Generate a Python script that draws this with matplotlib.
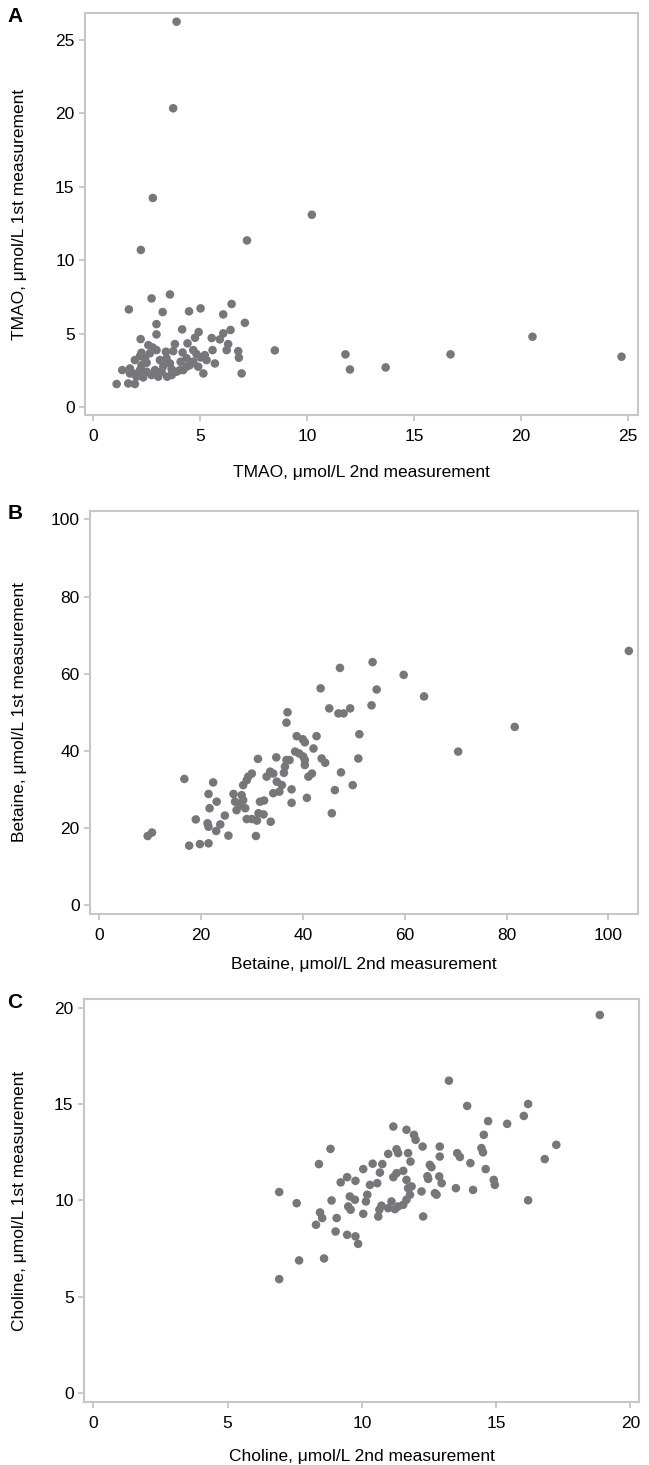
import matplotlib
matplotlib.use("Agg")
import matplotlib.pyplot as plt

plt.rcParams["font.family"] = ["Liberation Sans", "DejaVu Sans"]

# ---- panel A: TMAO (2nd measurement, 1st measurement) ----
tmao_2nd = [3.91, 3.75, 2.80, 10.23, 7.20, 2.24, 8.50, 11.80, 12.01, 13.68, 16.71, 20.54, 24.70,
            1.11, 1.65, 1.96, 1.37, 1.68, 2.74, 3.60, 3.26, 4.49, 5.03, 6.48, 6.09, 7.10, 2.97,
            4.17, 4.94, 2.97, 6.43, 6.09, 2.23, 5.55, 4.77, 5.93, 3.83, 4.42, 2.59, 6.32, 2.97,
            2.79, 3.41, 3.75, 4.19, 4.69, 4.84, 5.59, 6.25, 6.79, 6.82, 6.95, 5.16, 5.70, 5.31,
            5.03, 4.53, 4.10, 3.60, 3.44, 3.13, 2.90, 2.74, 2.51, 2.27, 2.20, 2.04, 1.88, 1.73,
            1.96, 2.20, 2.43, 2.66, 3.47, 3.21, 3.91, 3.68, 4.38, 4.69, 4.92, 4.22, 2.51, 1.73,
            2.35, 3.05, 3.68, 4.07, 4.38, 2.27, 3.29, 5.23]
tmao_1st = [26.25, 20.35, 14.24, 13.10, 11.35, 10.70, 3.86, 3.59, 2.56, 2.70, 3.59, 4.79, 3.43,
            1.57, 1.61, 1.57, 2.52, 6.65, 7.40, 7.67, 6.47, 6.52, 6.72, 7.02, 6.31, 5.74, 5.65,
            5.29, 5.11, 4.95, 5.25, 5.02, 4.63, 4.70, 4.72, 4.61, 4.29, 4.34, 4.22, 4.29, 3.88,
            4.06, 3.77, 3.81, 3.72, 3.88, 3.61, 3.88, 3.88, 3.81, 3.36, 2.29, 2.29, 2.97, 3.20,
            3.38, 2.86, 3.09, 2.97, 3.32, 3.20, 2.52, 2.18, 2.41, 2.86, 2.52, 2.07, 2.29, 2.63,
            3.20, 3.47, 3.32, 3.66, 2.07, 2.41, 2.41, 2.57, 3.32, 3.09, 2.75, 2.52, 3.02, 2.29,
            2.02, 2.07, 2.18, 2.52, 2.75, 3.70, 2.79, 3.54]

# ---- panel B: betaine ----
betaine_2nd = [9.55, 10.4, 16.75, 17.7, 19.8, 21.5, 19.0, 21.3, 21.5, 21.5, 22.4, 21.7, 23.1, 23.0,
               23.8, 24.7, 25.4, 26.4, 27.0, 26.7, 27.7, 28.3, 28.7, 28.0, 28.3, 29.0, 29.3, 30.0,
               29.0, 30.0, 31.0, 31.3, 32.3, 33.7, 30.8, 31.2, 31.6, 32.4, 32.9, 33.6, 34.2, 34.8,
               34.9, 35.9, 34.2, 35.4, 36.5, 36.3, 37.4, 36.8, 37.0, 36.8, 37.8, 37.8, 38.8, 38.5,
               39.3, 40.1, 40.4, 40.4, 41.1, 41.8, 40.0, 40.4, 40.8, 42.1, 42.7, 43.5, 43.7, 44.4,
               45.2, 45.7, 46.3, 47.5, 47.3, 47.0, 48.0, 49.3, 49.8, 51.1, 50.9, 53.7, 59.8, 54.5,
               63.8, 53.5, 70.5, 81.6, 104.0]
betaine_1st = [17.9, 18.8, 32.7, 15.4, 15.8, 16.0, 22.2, 21.2, 20.3, 28.8, 31.8, 25.1, 26.8, 19.2,
               20.9, 23.2, 18.0, 28.8, 24.6, 26.8, 25.9, 27.2, 25.1, 28.5, 31.1, 32.4, 33.3, 34.1,
               22.3, 22.3, 21.9, 23.8, 23.5, 21.6, 17.9, 37.9, 26.8, 27.1, 33.3, 34.6, 34.1, 38.3,
               32.0, 31.1, 29.0, 29.4, 35.9, 34.3, 37.6, 37.6, 50.0, 47.3, 30.0, 26.5, 43.8, 39.8,
               39.3, 38.5, 36.3, 37.6, 33.3, 34.1, 43.0, 42.2, 27.8, 40.6, 43.8, 56.2, 38.0, 36.9,
               51.0, 23.8, 29.8, 34.4, 61.5, 49.7, 49.7, 51.0, 31.1, 44.3, 38.0, 63.0, 59.7, 55.9,
               54.1, 51.8, 39.8, 46.2, 65.9]

# ---- panel C: choline ----
choline_2nd = [6.92, 7.66, 8.59, 6.92, 7.57, 8.40, 8.83, 8.29, 8.44, 8.52, 8.87, 9.06, 9.02, 9.21,
               9.45, 9.76, 9.45, 9.76, 9.86, 9.55, 9.49, 9.58, 9.74, 10.05, 10.05, 10.40, 10.67,
               10.76, 10.30, 10.57, 10.20, 10.15, 10.65, 10.73, 10.61, 10.98, 11.10, 11.23, 11.35,
               11.54, 11.66, 11.79, 11.17, 11.29, 11.54, 11.66, 11.72, 11.85, 10.98, 11.29, 11.35,
               11.72, 11.81, 11.17, 11.66, 11.94, 12.00, 12.26, 12.28, 12.22, 12.47, 12.53, 12.78,
               18.86, 13.24, 13.92, 16.19, 16.03, 15.41, 14.70, 14.54, 14.45, 14.51, 17.24, 16.81,
               16.19, 14.61, 14.04, 14.91, 14.95, 14.14, 13.50, 12.90, 12.90, 12.88, 12.97, 12.72,
               12.44, 13.55, 13.65, 12.59]
choline_1st = [5.91, 6.88, 6.98, 10.43, 9.85, 11.88, 12.67, 8.73, 9.37, 9.08, 9.99, 9.08, 8.38, 10.93,
               11.20, 11.01, 8.21, 8.13, 7.74, 10.20, 9.68, 9.51, 10.03, 9.30, 11.62, 11.90, 11.44,
               11.88, 10.80, 10.89, 10.29, 9.94, 9.51, 9.72, 9.16, 9.59, 9.94, 9.54, 9.68,
               9.77, 10.03, 10.29, 11.20, 11.41, 11.53, 11.06, 10.63, 10.72, 12.41, 12.65, 12.45,
               12.45, 12.01, 13.83, 13.66, 13.40, 13.14, 12.79, 9.16, 10.46, 11.11, 11.84, 10.29,
               19.62, 16.21, 14.90, 15.00, 14.38, 13.97, 14.11, 13.40, 12.71, 12.49, 12.88, 12.14,
               10.00, 11.62, 11.93, 11.06, 10.80, 10.54, 10.63, 12.79, 12.27, 11.24, 10.89, 10.37,
               11.25, 12.45, 12.25, 11.72]

W, H = 649, 1465
DOT = "#77777b"
FRAME = "#c6c6c6"

panels = [
    # letter, x, y, xlabel, ylabel, ticks, xlim, ylim, axes box in px (l, t, r, b), xlabel offset px
    ("A", tmao_2nd, tmao_1st, "TMAO, \u03bcmol/L 2nd measurement", "TMAO, \u03bcmol/L 1st measurement",
     range(0, 26, 5), (-0.37, 25.47), (-0.54, 26.84), (85, 13, 638, 415), 57),
    ("B", betaine_2nd, betaine_1st, "Betaine, \u03bcmol/L 2nd measurement", "Betaine, \u03bcmol/L 1st measurement",
     range(0, 101, 20), (-1.77, 105.8), (-2.33, 102.2), (90, 511, 638, 914), 51),
    ("C", choline_2nd, choline_1st, "Choline, \u03bcmol/L 2nd measurement", "Choline, \u03bcmol/L 1st measurement",
     range(0, 21, 5), (-0.35, 20.32), (-0.47, 20.45), (84, 999, 639, 1402), 54),
]

fig = plt.figure(figsize=(W / 100, H / 100), dpi=100)
for letter, xs, ys, xl, yl, ticks, xlim, ylim, (l, t, r, b), xlab_off in panels:
    ax = fig.add_axes([l / W, 1 - b / H, (r - l) / W, (b - t) / H])
    ax.scatter(xs, ys, s=38, color=DOT, edgecolors="none", zorder=3)
    ax.set_xlim(*xlim); ax.set_ylim(*ylim)
    ax.set_xticks(list(ticks)); ax.set_yticks(list(ticks))
    for sp in ax.spines.values():
        sp.set_color(FRAME); sp.set_linewidth(1.5)
    ax.tick_params(axis="both", direction="out", length=4.5, width=1.3, color=FRAME,
                   labelsize=12.5, labelcolor="black")
    ax.tick_params(axis="x", pad=5.5)
    ax.tick_params(axis="y", pad=3)
    ax.set_xlabel(xl, fontsize=12.5)
    ax.set_ylabel(yl, fontsize=12.5)
    ax.xaxis.label.set_va("center")
    ax.xaxis.set_label_coords(0.5, -xlab_off / (b - t))
    ax.yaxis.label.set_va("center")
    ax.yaxis.set_label_coords((20 - l) / (r - l), 0.5)
    fig.text(15 / W, 1 - (t + 3) / H, letter, fontsize=15, fontweight="bold", ha="center", va="center")

fig.savefig("out.png", dpi=100)
